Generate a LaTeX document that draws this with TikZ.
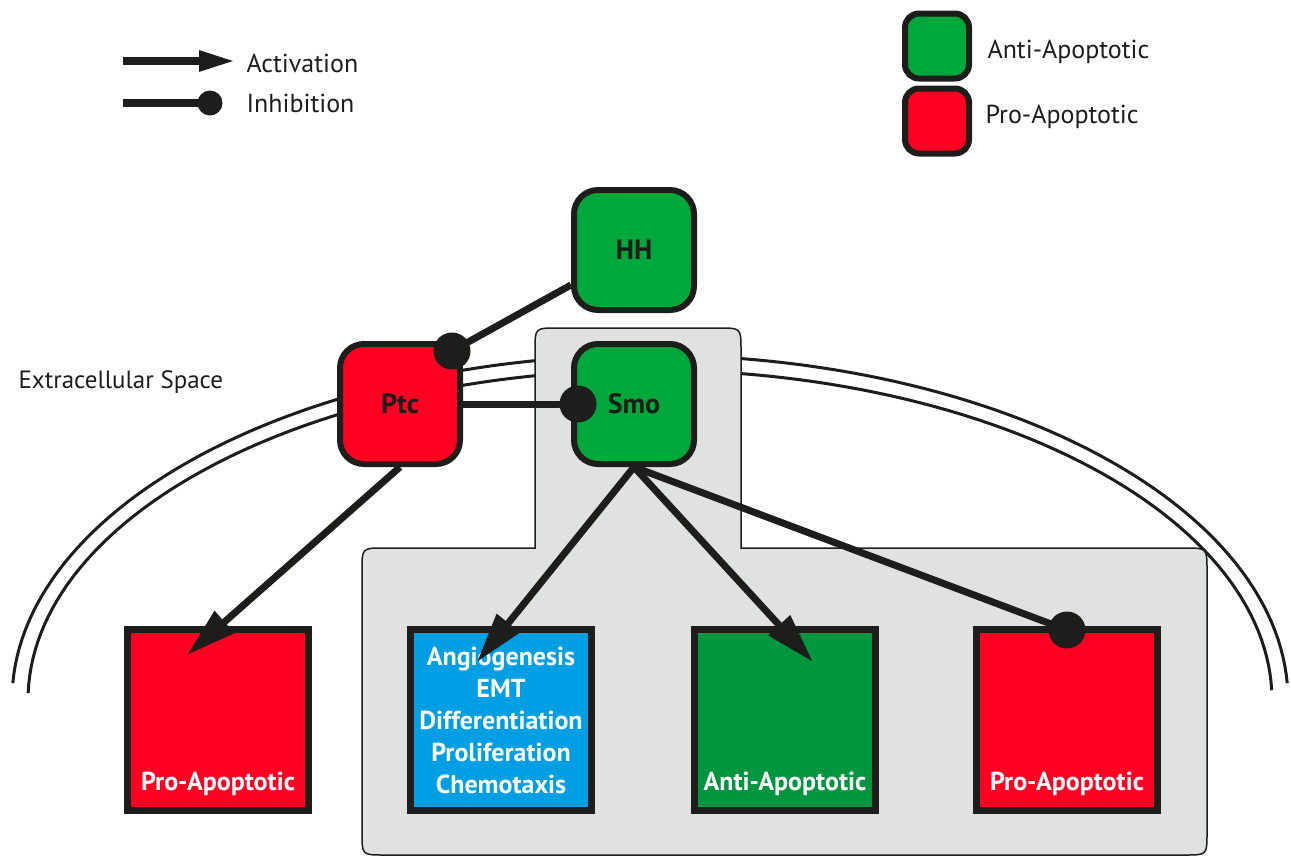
\documentclass[tikz,border=0pt]{standalone}
\usepackage{fontspec}
\setmainfont{PT Sans}
\usetikzlibrary{arrows.meta}
\definecolor{cred}{HTML}{FF0022}
\definecolor{cgreen}{HTML}{00A83B}
\definecolor{cgreenb}{HTML}{00963F}
\definecolor{cblue}{HTML}{009FE3}
\definecolor{cgray}{HTML}{E0E1E1}
\definecolor{cdark}{HTML}{1D1D1B}
\begin{document}
\begin{tikzpicture}[x=1pt,y=-1pt,
  rbox/.style={draw=cdark,line width=6pt,rounded corners=24pt,minimum width=120pt,minimum height=120pt,inner sep=0pt,font=\fontsize{28}{30}\selectfont\bfseries,text=cdark},
  sbox/.style={draw=cdark,line width=7pt,minimum width=181pt,minimum height=181pt,inner sep=0pt},
  lgbox/.style={draw=cdark,line width=6pt,rounded corners=14pt,minimum width=64pt,minimum height=65pt},
  conn/.style={draw=cdark,line width=7pt},
  act/.style={conn,-{Triangle[length=50pt,width=28pt]}},
  lbl/.style={text=white,font=\fontsize{26}{32}\selectfont\bfseries,align=center},
  lgtext/.style={text=cdark,font=\fontsize{26}{28}\selectfont,anchor=west},
  membrane/.style={draw=cdark,line width=3pt}
]
\useasboundingbox (0,0) rectangle (1291,857);
% membrane
\draw[membrane] plot[domain=177.2:2.8,samples=120] ({650+638*cos(\x)},{700-345*sin(\x)});
\draw[membrane] plot[domain=178.8:1.7,samples=120] ({650+622*cos(\x)},{700-330*sin(\x)});
% gray cytoplasm region
\draw[fill=cgray,draw=cdark,line width=1.5pt]
  (535,548) -- (535,350) .. controls (535,328) .. (557,328) -- (719,328)
  .. controls (741,328) .. (741,350) -- (741,548) -- (1185,548)
  .. controls (1207,548) .. (1207,570) -- (1207,833)
  .. controls (1207,855) .. (1185,855) -- (384,855)
  .. controls (362,855) .. (362,833) -- (362,570)
  .. controls (362,548) .. (384,548) -- cycle;
% nodes
\node[rbox,fill=cgreen] (hh) at (634,250) {HH};
\node[rbox,fill=cred] (ptc) at (400,404) {Ptc};
\node[rbox,fill=cgreen] (smo) at (634,404) {Smo};
\node[sbox,fill=cred] (pa1) at (218,720) {};
\node[sbox,fill=cblue,lbl] (bl) at (501,720) {Angiogenesis\\EMT\\Differentiation\\Proliferation\\Chemotaxis};
\node[sbox,fill=cgreenb] (aa) at (785,720) {};
\node[sbox,fill=cred] (pa2) at (1067,720) {};
\node[lbl,anchor=base] (pa1t) at ([yshift=24pt]pa1.south) {Pro-Apoptotic};
\node[lbl,anchor=base] (aat) at ([yshift=24pt]aa.south) {Anti-Apoptotic};
\node[lbl,anchor=base] (pa2t) at ([yshift=24pt]pa2.south) {Pro-Apoptotic};
\node[text=cdark,font=\fontsize{25}{28}\selectfont,anchor=west] (ecs) at (15,382) {Extracellular Space};
% connectors
\coordinate (d1) at (452,351);
\coordinate (d2) at (578,404);
\coordinate (d3) at (1067,630);
\coordinate (t1) at (187,655);
\coordinate (t2) at (477,662);
\coordinate (t3) at (813,662);
\draw[conn] (hh) -- (d1);
\fill[cdark] (d1) circle (18.5pt);
\draw[conn] (ptc) -- (d2);
\fill[cdark] (d2) circle (18.5pt);
\draw[conn] (smo.south) -- (d3);
\fill[cdark] (d3) circle (18.5pt);
\draw[act] (ptc.south) -- (t1);
\draw[act] (smo.south) -- (t2);
\draw[act] (smo.south) -- (t3);
% legend
\coordinate (la1) at (123,61);
\coordinate (la2) at (236,61);
\draw[conn,line width=8pt,-{Triangle[length=37pt,width=19pt]}] (la1) -- (la2);
\node[lgtext] (lact) at (243,63) {Activation};
\coordinate (li1) at (123,103);
\coordinate (li2) at (210,103);
\draw[conn,line width=8pt] (li1) -- (li2);
\fill[cdark] (li2) circle (12.5pt);
\node[lgtext] (linh) at (243,103) {Inhibition};
\node[lgbox,fill=cgreen] (lg1) at (937,46) {};
\node[lgbox,fill=cred] (lg2) at (937,121) {};
\node[lgtext] (lg1t) at (984,52) {Anti-Apoptotic};
\node[lgtext] (lg2t) at (982,117) {Pro-Apoptotic};
\end{tikzpicture}
\end{document}
